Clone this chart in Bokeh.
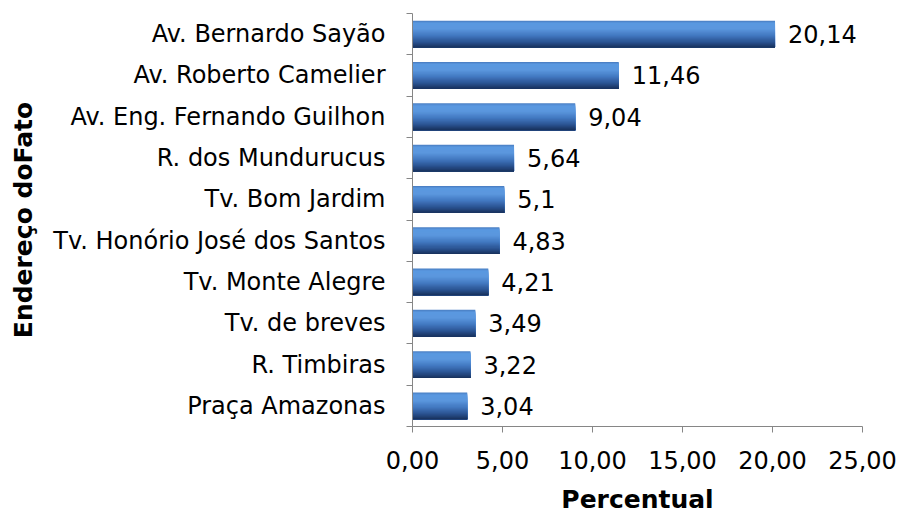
from bokeh.plotting import figure
from bokeh.models import FixedTicker, ColumnDataSource, Range1d, CustomJSTickFormatter
from bokeh.embed import file_html
from bokeh.resources import INLINE
from bokeh.core.properties import value

categories = ["Av. Bernardo Sayão", "Av. Roberto Camelier", "Av. Eng. Fernando Guilhon",
              "R. dos Mundurucus", "Tv. Bom Jardim", "Tv. Honório José dos Santos",
              "Tv. Monte Alegre", "Tv. de breves", "R. Timbiras", "Praça Amazonas"]
values = [20.14, 11.46, 9.04, 5.64, 5.1, 4.83, 4.21, 3.49, 3.22, 3.04]
value_labels = ["20,14", "11,46", "9,04", "5,64", "5,1", "4,83", "4,21", "3,49", "3,22", "3,04"]
x_ticks = [0, 5, 10, 15, 20, 25]

n = len(categories)
ypos = [n - 0.5 - i for i in range(n)]

FONT = "DejaVu Sans"
p = figure(width=899, height=516, output_backend="svg", toolbar_location=None,
           x_range=Range1d(0, 25), y_range=Range1d(0, n),
           min_border_left=412, min_border_right=37, min_border_top=13, min_border_bottom=88)
p.outline_line_color = None
p.xgrid.grid_line_color = None
p.ygrid.grid_line_color = None

# gradient shading for the bars (colour stops, top -> bottom)
stops = [(0.0, (0x46, 0x78, 0xbc)), (0.08, (0x5a, 0x98, 0xe0)), (0.3, (0x5b, 0x97, 0xde)),
         (0.55, (0x42, 0x78, 0xc0)), (0.8, (0x2a, 0x52, 0x90)), (1.0, (0x17, 0x30, 0x5a))]


def col_at(t):
    for (t0, c0), (t1, c1) in zip(stops[:-1], stops[1:]):
        if t0 <= t <= t1:
            f = (t - t0) / (t1 - t0)
            return "#%02x%02x%02x" % tuple(int(round(a + (b - a) * f)) for a, b in zip(c0, c1))
    return "#%02x%02x%02x" % stops[-1][1]


bar_h = 0.65
ns = 26
sh = bar_h / ns
# layered from the top: each layer spans from its top edge down to the bar bottom
for k in range(ns):
    h = bar_h - k * sh
    off = -bar_h / 2 + h / 2
    src = ColumnDataSource(dict(y=[y + off for y in ypos], right=values))
    p.hbar(y="y", left=0, right="right", height=h, source=src,
           fill_color=col_at((k + 0.5) / ns), line_color=None)

lab = ColumnDataSource(dict(y=ypos, x=values, t=value_labels))
p.text(x="x", y="y", text="t", source=lab, x_offset=13, text_baseline="middle",
       text_align="left", text_font=value(FONT), text_font_size="24px", text_color="#000000")

# y axis
yax = p.yaxis[0]
yax.ticker = FixedTicker(ticks=ypos, minor_ticks=list(range(n + 1)))
yax.major_label_overrides = {y: c for y, c in zip(ypos, categories)}
yax.major_tick_line_color = None
yax.minor_tick_out = 6
yax.minor_tick_in = 0
yax.minor_tick_line_color = "#868686"
yax.axis_line_color = "#868686"
yax.major_label_standoff = 21
yax.major_label_text_font = FONT
yax.major_label_text_font_size = "24px"
yax.major_label_text_color = "#000000"
yax.axis_label = "Endereço doFato"
yax.axis_label_text_font = FONT
yax.axis_label_text_font_size = "25px"
yax.axis_label_text_font_style = "bold"
yax.axis_label_text_color = "#000000"
yax.axis_label_standoff = 12

# x axis
xax = p.xaxis[0]
xax.ticker = FixedTicker(ticks=x_ticks, minor_ticks=[])
xax.formatter = CustomJSTickFormatter(code="return tick.toFixed(2).replace('.', ',');")
xax.major_tick_out = 6
xax.major_tick_in = 0
xax.major_tick_line_color = "#868686"
xax.axis_line_color = "#868686"
xax.major_label_standoff = 18
xax.major_label_text_font = FONT
xax.major_label_text_font_size = "24px"
xax.major_label_text_color = "#000000"
xax.axis_label = "Percentual"
xax.axis_label_text_font = FONT
xax.axis_label_text_font_size = "25px"
xax.axis_label_text_font_style = "bold"
xax.axis_label_text_color = "#000000"
xax.axis_label_standoff = 13

open("out.html", "w").write(file_html(p, INLINE))
